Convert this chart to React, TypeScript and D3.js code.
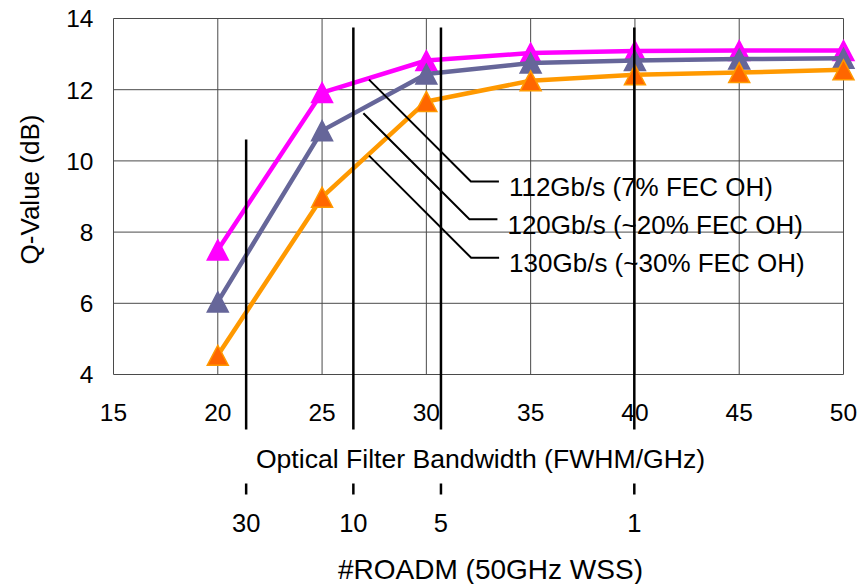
import { useEffect, useRef } from 'react'
import * as d3 from 'd3'

// bandwidth (FWHM/GHz) and Q-values (dB) per line rate
const bandwidth = [20, 25, 30, 35, 40, 45, 50]
const q112 = [7.5, 11.92, 12.82, 13.03, 13.09, 13.1, 13.1]
const q120 = [6.04, 10.85, 12.44, 12.75, 12.82, 12.86, 12.88]
const q130 = [4.54, 8.98, 11.67, 12.25, 12.42, 12.48, 12.56]

const seriesNames = ['112Gb/s (7% FEC OH)', '120Gb/s (~20% FEC OH)', '130Gb/s (~30% FEC OH)']

const xTicks = [15, 20, 25, 30, 35, 40, 45, 50]
const yTicks = [4, 6, 8, 10, 12, 14]

// secondary axis: number of ROADMs mapped onto bandwidth
const roadmLabels = ['30', '10', '5', '1']
const roadmBandwidth = [21.36, 26.5, 30.7, 39.97]
const roadmLineTop = [10.6, 13.75, 13.75, 13.75]

// where each leader line leaves its curve (bandwidth) and the Q level of its label
const leaderStart = [27.25, 26.98, 27.25]
const leaderLabelQ = [9.42, 8.36, 7.28]

const W = 857
const H = 584
const margin = { top: 18.5, right: 13.5, bottom: 209.5, left: 113.5 }
const font = '"Liberation Sans", Arial, Helvetica, sans-serif'

const App = () => {
  const svgRef = useRef<SVGSVGElement | null>(null)

  useEffect(() => {
    if (!svgRef.current) return
    const svg = d3.select(svgRef.current)
    svg.selectAll('*').remove()

    const x = d3.scaleLinear().domain([15, 50]).range([margin.left, W - margin.right])
    const y = d3.scaleLinear().domain([4, 14]).range([H - margin.bottom, margin.top])
    const plotBottom = y(4)

    // grid
    const grid = svg.append('g').attr('stroke', '#4a4a4a').attr('stroke-width', 1)
    grid.selectAll('line.h')
      .data(yTicks)
      .enter()
      .append('line')
      .attr('x1', x(15))
      .attr('x2', x(50))
      .attr('y1', d => y(d))
      .attr('y2', d => y(d))
    grid.selectAll('line.v')
      .data(xTicks)
      .enter()
      .append('line')
      .attr('x1', d => x(d))
      .attr('x2', d => x(d))
      .attr('y1', y(14))
      .attr('y2', y(4))

    // y tick labels
    svg.append('g')
      .selectAll('text')
      .data(yTicks)
      .enter()
      .append('text')
      .attr('x', x(15) - 20)
      .attr('y', d => y(d))
      .attr('dy', '0.36em')
      .attr('text-anchor', 'end')
      .style('font', `24.5px ${font}`)
      .text(d => d)

    // x tick labels
    svg.append('g')
      .selectAll('text')
      .data(xTicks)
      .enter()
      .append('text')
      .attr('x', d => x(d))
      .attr('y', plotBottom + 38)
      .attr('dy', '0.36em')
      .attr('text-anchor', 'middle')
      .style('font', `24.5px ${font}`)
      .text(d => d)

    svg.append('text')
      .attr('transform', `translate(30,${(y(14) + y(4)) / 2 - 7}) rotate(-90)`)
      .attr('dy', '0.36em')
      .attr('text-anchor', 'middle')
      .style('font', `26px ${font}`)
      .text('Q-Value (dB)')

    svg.append('text')
      .attr('x', (x(15) + x(50)) / 2 + 2)
      .attr('y', plotBottom + 84)
      .attr('dy', '0.36em')
      .attr('text-anchor', 'middle')
      .style('font', `26.6px ${font}`)
      .text('Optical Filter Bandwidth (FWHM/GHz)')

    // series
    const colors = [
      { line: '#ff00ff', fill: '#ff00ff', stroke: '#ff00ff' },
      { line: '#666699', fill: '#666699', stroke: '#666699' },
      { line: '#ff9900', fill: '#ff6600', stroke: '#ff9900' },
    ]
    const allSeries = [q112, q120, q130]
    const line = d3.line<number>()
      .x((_, i) => x(bandwidth[i]))
      .y(d => y(d))
    const tri = 'M0,-10L10.5,10L-10.5,10Z'

    allSeries.forEach((vals, si) => {
      const g = svg.append('g')
      g.append('path')
        .datum(vals)
        .attr('d', line)
        .attr('fill', 'none')
        .attr('stroke', colors[si].line)
        .attr('stroke-width', 4.5)
        .attr('stroke-linejoin', 'round')
      g.selectAll('path.m')
        .data(vals)
        .enter()
        .append('path')
        .attr('d', tri)
        .attr('transform', (d, i) => `translate(${x(bandwidth[i])},${y(d)})`)
        .attr('fill', colors[si].fill)
        .attr('stroke', colors[si].stroke)
        .attr('stroke-width', 1.5)
    })

    // ROADM marker lines + secondary axis
    const roadm = svg.append('g')
    roadm.selectAll('line.r')
      .data(roadmBandwidth)
      .enter()
      .append('line')
      .attr('x1', d => x(d))
      .attr('x2', d => x(d))
      .attr('y1', (_, i) => y(roadmLineTop[i]))
      .attr('y2', plotBottom + 55)
      .attr('stroke', '#000')
      .attr('stroke-width', 2.5)
    roadm.selectAll('line.t')
      .data(roadmBandwidth)
      .enter()
      .append('line')
      .attr('x1', d => x(d))
      .attr('x2', d => x(d))
      .attr('y1', plotBottom + 109)
      .attr('y2', plotBottom + 120)
      .attr('stroke', '#000')
      .attr('stroke-width', 2.5)
    roadm.selectAll('text')
      .data(roadmBandwidth)
      .enter()
      .append('text')
      .attr('x', d => x(d))
      .attr('y', plotBottom + 148)
      .attr('dy', '0.36em')
      .attr('text-anchor', 'middle')
      .style('font', `25.5px ${font}`)
      .text((_, i) => roadmLabels[i])

    svg.append('text')
      .attr('x', (x(15) + x(50)) / 2 + 12)
      .attr('y', plotBottom + 194)
      .attr('dy', '0.36em')
      .attr('text-anchor', 'middle')
      .style('font', `28px ${font}`)
      .text('#ROADM (50GHz WSS)')

    // leader lines and labels
    const labels = svg.append('g')
    allSeries.forEach((vals, si) => {
      const bw = leaderStart[si]
      const q = d3.scaleLinear().domain(bandwidth).range(vals)(bw)
      const x0 = x(bw)
      const y0 = y(q) + (si === 1 ? 5 : 1.5)
      const yl = y(leaderLabelQ[si])
      const xe = x0 + (yl - y0)
      labels.append('path')
        .attr('d', `M${x0},${y0}L${xe},${yl}L${xe + 28},${yl}`)
        .attr('fill', 'none')
        .attr('stroke', '#000')
        .attr('stroke-width', 2)
      labels.append('text')
        .attr('x', xe + 38)
        .attr('y', yl + 5)
        .attr('dy', '0.36em')
        .style('font', `26px ${font}`)
        .text(seriesNames[si])
    })
  }, [])

  return (
    <svg
      ref={svgRef}
      width={W}
      height={H}
      style={{ position: 'absolute', left: 0, top: 0, background: 'white' }}
    />
  )
}

export default App
